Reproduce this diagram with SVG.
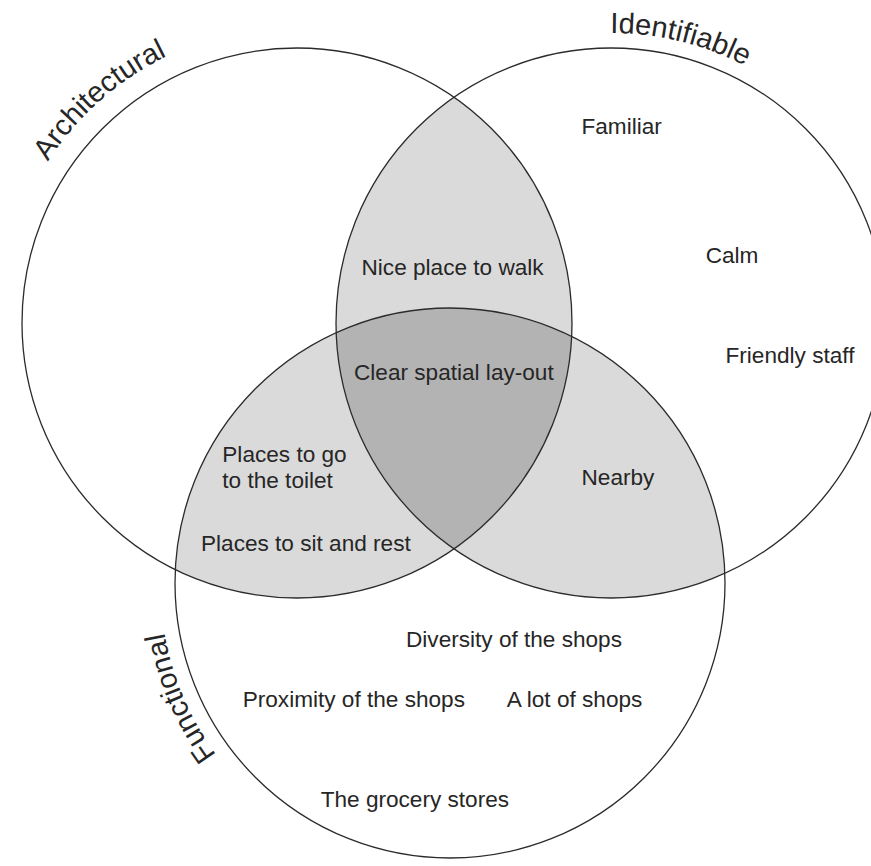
<svg xmlns="http://www.w3.org/2000/svg" xmlns:xlink="http://www.w3.org/1999/xlink" width="871" height="866" viewBox="0 0 871 866">
  <style>
    .ring { fill: none; stroke: #2b2b2b; stroke-width: 1.3; }
    .pair { fill: #dadada; stroke: none; }
    .triple { fill: #b3b3b3; stroke: none; }
    .item { font-family: "Liberation Sans", Arial, sans-serif; font-size: 22.6px; fill: #262626; }
    .title { font-family: "Liberation Sans", Arial, sans-serif; font-size: 29px; fill: #262626; }
  </style>
  <defs>
    <clipPath id="clipA"><circle cx="297" cy="323" r="275"/></clipPath>
    <clipPath id="clipB"><circle cx="611" cy="323" r="275"/></clipPath>
    <clipPath id="clipC"><circle cx="450" cy="583" r="275"/></clipPath>
    <path id="arcA" d="M 6.0 382.2 A 297 297 0 0 1 391.2 41.4"/>
    <path id="arcB" d="M 401.3 122.6 A 290 290 0 0 1 889.3 241.6"/>
    <path id="arcC" d="M 415.2 870.9 A 290 290 0 0 1 218.1 408.9"/>
  </defs>
  <rect x="0" y="0" width="871" height="866" fill="#ffffff"/>

  <g id="overlaps">
    <circle class="pair" cx="611" cy="323" r="275" clip-path="url(#clipA)"/>
    <circle class="pair" cx="450" cy="583" r="275" clip-path="url(#clipA)"/>
    <circle class="pair" cx="450" cy="583" r="275" clip-path="url(#clipB)"/>
    <g clip-path="url(#clipA)">
      <circle class="triple" cx="611" cy="323" r="275" clip-path="url(#clipC)"/>
    </g>
  </g>

  <g id="architectural">
    <circle class="ring" cx="297" cy="323" r="275"/>
    <text class="title"><textPath xlink:href="#arcA" href="#arcA" startOffset="50%" text-anchor="middle">Architectural</textPath></text>
  </g>
  <g id="identifiable">
    <circle class="ring" cx="611" cy="323" r="275"/>
    <text class="title"><textPath xlink:href="#arcB" href="#arcB" startOffset="50%" text-anchor="middle">Identifiable</textPath></text>
  </g>
  <g id="functional">
    <circle class="ring" cx="450" cy="583" r="275"/>
    <text class="title"><textPath xlink:href="#arcC" href="#arcC" startOffset="50%" text-anchor="middle">Functional</textPath></text>
  </g>

  <g id="item-familiar"><text class="item" x="581.5" y="134.3">Familiar</text></g>
  <g id="item-calm"><text class="item" x="705.7" y="263.3">Calm</text></g>
  <g id="item-friendly-staff"><text class="item" x="725.5" y="363.3">Friendly staff</text></g>
  <g id="item-nice-place"><text class="item" x="361.5" y="275">Nice place to walk</text></g>
  <g id="item-clear-layout"><text class="item" x="354" y="380">Clear spatial lay-out</text></g>
  <g id="item-nearby"><text class="item" x="581.5" y="485">Nearby</text></g>
  <g id="item-toilet"><text class="item" x="222.3" y="462.3">Places to go<tspan x="222.3" dy="26">to the toilet</tspan></text></g>
  <g id="item-sit-rest"><text class="item" x="201" y="550.7">Places to sit and rest</text></g>
  <g id="item-diversity"><text class="item" x="406" y="647.3">Diversity of the shops</text></g>
  <g id="item-proximity"><text class="item" x="242.7" y="707.3">Proximity of the shops</text></g>
  <g id="item-lot-of-shops"><text class="item" x="506.7" y="707.3">A lot of shops</text></g>
  <g id="item-grocery"><text class="item" x="320.7" y="807">The grocery stores</text></g>
</svg>
